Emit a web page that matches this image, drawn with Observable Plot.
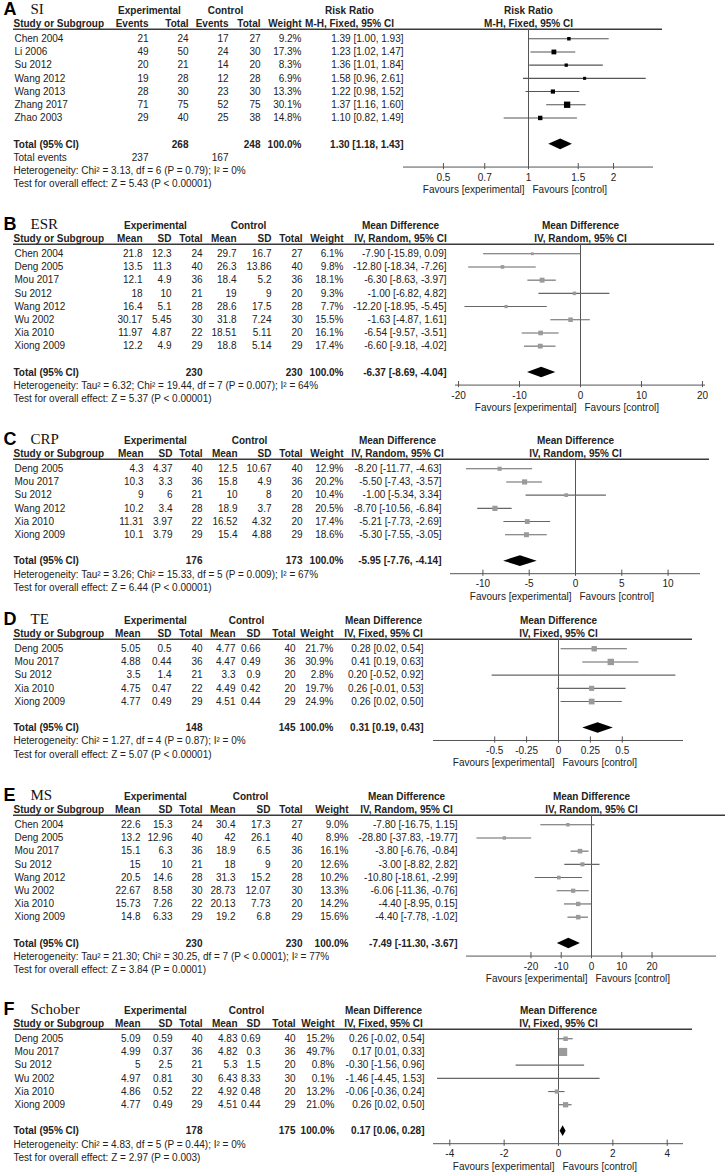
<!DOCTYPE html>
<html><head><meta charset="utf-8">
<script src="https://cdn.jsdelivr.net/npm/d3@7"></script>
<script src="https://cdn.jsdelivr.net/npm/@observablehq/plot@0.6"></script>
<style>
html,body{margin:0;padding:0;background:#fff;}
#root{position:relative;width:727px;height:1173px;overflow:hidden;background:#fff;}
#root svg{position:absolute;left:0;}
</style></head><body><div id="root"></div>
<script>
// ================= DATA =================
// A  SI  (Risk Ratio, M-H, Fixed)
const siStudy = ["Chen 2004","Li 2006","Su 2012","Wang 2012","Wang 2013","Zhang 2017","Zhao 2003"];
const siExpEvents = [21,49,20,19,28,71,29];
const siExpTotal  = [24,50,21,28,30,75,40];
const siCtrlEvents = [17,24,14,12,23,52,25];
const siCtrlTotal  = [27,30,20,28,30,75,38];
const siWeight = [9.2,17.3,8.3,6.9,13.3,30.1,14.8];
const siEst = [1.39,1.23,1.36,1.58,1.22,1.37,1.10];
const siLo  = [1.00,1.02,1.01,0.96,0.98,1.16,0.82];
const siHi  = [1.93,1.47,1.84,2.61,1.52,1.60,1.49];
const siTotals = [268,248];
const siTotalEvents = [237,167];
const siPooled = [1.30,1.18,1.43];
const siHet = "Heterogeneity: Chi² = 3.13, df = 6 (P = 0.79); I² = 0%";
const siTest = "Test for overall effect: Z = 5.43 (P < 0.00001)";
const siTicks = [0.5,0.7,1,1.5,2];

// B  ESR (Mean Difference, IV, Random)
const esrStudy = ["Chen 2004","Deng 2005","Mou 2017","Su 2012","Wang 2012","Wu 2002","Xia 2010","Xiong 2009"];
const esrExpMean = [21.8,13.5,12.1,18,16.4,30.17,11.97,12.2];
const esrExpSD   = [12.3,11.3,4.9,10,5.1,5.45,4.87,4.9];
const esrExpN    = [24,40,36,21,28,30,22,29];
const esrCtrlMean = [29.7,26.3,18.4,19,28.6,31.8,18.51,18.8];
const esrCtrlSD   = [16.7,13.86,5.2,9,17.5,7.24,5.11,5.14];
const esrCtrlN    = [27,40,36,20,28,30,20,29];
const esrWeight = [6.1,9.8,18.1,9.3,7.7,15.5,16.1,17.4];
const esrEst = [-7.90,-12.80,-6.30,-1.00,-12.20,-1.63,-6.54,-6.60];
const esrLo  = [-15.89,-18.34,-8.63,-6.82,-18.95,-4.87,-9.57,-9.18];
const esrHi  = [0.09,-7.26,-3.97,4.82,-5.45,1.61,-3.51,-4.02];
const esrTotals = [230,230];
const esrPooled = [-6.37,-8.69,-4.04];
const esrHet = "Heterogeneity: Tau² = 6.32; Chi² = 19.44, df = 7 (P = 0.007); I² = 64%";
const esrTest = "Test for overall effect: Z = 5.37 (P < 0.00001)";
const esrTicks = [-20,-10,0,10,20];

// C  CRP (Mean Difference, IV, Random)
const crpStudy = ["Deng 2005","Mou 2017","Su 2012","Wang 2012","Xia 2010","Xiong 2009"];
const crpExpMean = [4.3,10.3,9,10.2,11.31,10.1];
const crpExpSD   = [4.37,3.3,6,3.4,3.97,3.79];
const crpExpN    = [40,36,21,28,22,29];
const crpCtrlMean = [12.5,15.8,10,18.9,16.52,15.4];
const crpCtrlSD   = [10.67,4.9,8,3.7,4.32,4.88];
const crpCtrlN    = [40,36,20,28,20,29];
const crpWeight = [12.9,20.2,10.4,20.5,17.4,18.6];
const crpEst = [-8.20,-5.50,-1.00,-8.70,-5.21,-5.30];
const crpLo  = [-11.77,-7.43,-5.34,-10.56,-7.73,-7.55];
const crpHi  = [-4.63,-3.57,3.34,-6.84,-2.69,-3.05];
const crpTotals = [176,173];
const crpPooled = [-5.95,-7.76,-4.14];
const crpHet = "Heterogeneity: Tau² = 3.26; Chi² = 15.33, df = 5 (P = 0.009); I² = 67%";
const crpTest = "Test for overall effect: Z = 6.44 (P < 0.00001)";
const crpTicks = [-10,-5,0,5,10];

// D  TE (Mean Difference, IV, Fixed)
const teStudy = ["Deng 2005","Mou 2017","Su 2012","Xia 2010","Xiong 2009"];
const teExpMean = [5.05,4.88,3.5,4.75,4.77];
const teExpSD   = [0.5,0.44,1.4,0.47,0.49];
const teExpN    = [40,36,21,22,29];
const teCtrlMean = [4.77,4.47,3.3,4.49,4.51];
const teCtrlSD   = [0.66,0.49,0.9,0.42,0.44];
const teCtrlN    = [40,36,20,20,29];
const teWeight = [21.7,30.9,2.8,19.7,24.9];
const teEst = [0.28,0.41,0.20,0.26,0.26];
const teLo  = [0.02,0.19,-0.52,-0.01,0.02];
const teHi  = [0.54,0.63,0.92,0.53,0.50];
const teTotals = [148,145];
const tePooled = [0.31,0.19,0.43];
const teHet = "Heterogeneity: Chi² = 1.27, df = 4 (P = 0.87); I² = 0%";
const teTest = "Test for overall effect: Z = 5.07 (P < 0.00001)";
const teTicks = [-0.5,-0.25,0,0.25,0.5];

// E  MS (Mean Difference, IV, Random)
const msStudy = ["Chen 2004","Deng 2005","Mou 2017","Su 2012","Wang 2012","Wu 2002","Xia 2010","Xiong 2009"];
const msExpMean = [22.6,13.2,15.1,15,20.5,22.67,15.73,14.8];
const msExpSD   = [15.3,12.96,6.3,10,14.6,8.58,7.26,6.33];
const msExpN    = [24,40,36,21,28,30,22,29];
const msCtrlMean = [30.4,42,18.9,18,31.3,28.73,20.13,19.2];
const msCtrlSD   = [17.3,26.1,6.5,9,15.2,12.07,7.73,6.8];
const msCtrlN    = [27,40,36,20,28,30,20,29];
const msWeight = [9.0,8.9,16.1,12.6,10.2,13.3,14.2,15.6];
const msEst = [-7.80,-28.80,-3.80,-3.00,-10.80,-6.06,-4.40,-4.40];
const msLo  = [-16.75,-37.83,-6.76,-8.82,-18.61,-11.36,-8.95,-7.78];
const msHi  = [1.15,-19.77,-0.84,2.82,-2.99,-0.76,0.15,-1.02];
const msTotals = [230,230];
const msPooled = [-7.49,-11.30,-3.67];
const msHet = "Heterogeneity: Tau² = 21.30; Chi² = 30.25, df = 7 (P < 0.0001); I² = 77%";
const msTest = "Test for overall effect: Z = 3.84 (P = 0.0001)";
const msTicks = [-20,-10,0,10,20];

// F  Schober (Mean Difference, IV, Fixed)
const schStudy = ["Deng 2005","Mou 2017","Su 2012","Wu 2002","Xia 2010","Xiong 2009"];
const schExpMean = [5.09,4.99,5,4.97,4.86,4.77];
const schExpSD   = [0.59,0.37,2.5,0.81,0.52,0.49];
const schExpN    = [40,36,21,30,22,29];
const schCtrlMean = [4.83,4.82,5.3,6.43,4.92,4.51];
const schCtrlSD   = [0.69,0.3,1.5,8.33,0.48,0.44];
const schCtrlN    = [40,36,20,30,20,29];
const schWeight = [15.2,49.7,0.8,0.1,13.2,21.0];
const schEst = [0.26,0.17,-0.30,-1.46,-0.06,0.26];
const schLo  = [-0.02,0.01,-1.56,-4.45,-0.36,0.02];
const schHi  = [0.54,0.33,0.96,1.53,0.24,0.50];
const schTotals = [178,175];
const schPooled = [0.17,0.06,0.28];
const schHet = "Heterogeneity: Chi² = 4.83, df = 5 (P = 0.44); I² = 0%";
const schTest = "Test for overall effect: Z = 2.97 (P = 0.003)";
const schTicks = [-4,-2,0,2,4];

// ================= DRAWING =================
const W = 727, ROW = 13.2, L = 13, TL = 14;
const FONT = "'Liberation Sans', Arial, Helvetica, sans-serif";
const SERIF = "'Liberation Serif', 'Times New Roman', serif";
const INK = "#222";
const ci = (e, l, h) => `${e.toFixed(2)} [${l.toFixed(2)}, ${h.toFixed(2)}]`;

function panel(o) {
  const n = o.study.length;
  const R0 = 2.14, UL = 1.42;
  const rows = d3.range(n).map(i => R0 + i);
  const totalRow = R0 + n + 1;
  const hetRow = totalRow + (o.totalEvents ? 2 : 1);
  const testRow = hetRow + 1;
  const axisRow = totalRow + (o.totalEvents ? 1.72 : 0.95);
  const tickRow = axisRow + 0.8;
  const favRow = axisRow + 1.72;
  const height = Math.ceil(TL + (Math.max(testRow, favRow) + 0.9) * ROW);
  const axEnd = o.axStart + 250;
  const at = p => p - L;
  const studies = o.study.map((s, i) => ({s, row: rows[i], est: o.est[i], lo: o.lo[i], hi: o.hi[i], w: o.weight[i]}));
  const t = (arr, opts) => Plot.text(arr, {fill: INK, fontSize: 10, ...opts});
  const left = (arr, row, pos, anchor, extra = {}) =>
    t(arr, {y: typeof row === "number" ? () => row : row, frameAnchor: "left", dx: at(pos), textAnchor: anchor, ...extra});
  const B = {fontWeight: "bold"};
  const [p0, p1, p2] = o.pooled;
  const diamond = [
    {x: p1, y1: totalRow, y2: totalRow},
    {x: p0, y1: totalRow - 0.4, y2: totalRow + 0.4},
    {x: p2, y1: totalRow, y2: totalRow}
  ];
  const marks = [
    // panel letter and outcome name
    left([o.letter], -0.12, 3, "start", {fontSize: 18, fontWeight: "bold", fill: "#000"}),
    left([o.title], -0.12, 30, "start", {fontSize: 15, fontFamily: SERIF, fill: "#111"}),
    // header row 1
    left(["Experimental"], 0, o.expCenter, "middle", B),
    left(["Control"], 0, o.ctrlCenter, "middle", B),
    left([o.effect], 0, o.effCenter, "middle", B),
    t([o.effect], {x: () => o.nullX, y: () => 0, textAnchor: "middle", ...B}),
    // header row 2
    left(["Study or Subgroup"], 1, 13, "start", B),
    ...o.cols.map(c => left([c.label], 1, c.right, "end", B)),
    left(["Weight"], 1, o.weightRight, "end", B),
    left([o.method], 1, o.effCenter, "middle", B),
    t([o.method], {x: () => o.nullX, y: () => 1, textAnchor: "middle", ...B}),
    Plot.ruleY([UL], {stroke: "#3a3a3a", strokeWidth: 1.3}),
    // study rows
    left(studies, "row", 14, "start", {text: "s"}),
    ...o.cols.map(c => left(c.values, (d, i) => rows[i], c.right, "end", {text: d => String(d)})),
    left(studies, "row", o.weightRight, "end", {text: d => d.w.toFixed(1) + "%"}),
    left(studies, "row", o.effRight, "end", {text: d => ci(d.est, d.lo, d.hi)}),
    // forest: null line, CIs, squares
    Plot.ruleX([o.nullX], {y1: UL, y2: axisRow, stroke: "#555"}),
    Plot.ruleY(studies, {y: "row", x1: "lo", x2: "hi", stroke: o.ciColor, strokeWidth: 1.1}),
    Plot.dot(studies, {x: "est", y: "row", r: "w", symbol: "square", fill: o.sqColor}),
    // total row
    left(["Total (95% CI)"], totalRow, 13, "start", B),
    left([o.totals[0]], totalRow, o.cols[o.totIdx[0]].right, "end", {...B, text: d => String(d)}),
    left([o.totals[1]], totalRow, o.cols[o.totIdx[1]].right, "end", {...B, text: d => String(d)}),
    left(["100.0%"], totalRow, o.weightRight, "end", B),
    left([o.pooled], totalRow, o.effRight, "end", {...B, text: d => ci(d[0], d[1], d[2])}),
    Plot.area(diamond, {x1: "x", y1: "y1", y2: "y2", fill: "#000", curve: "linear"}),
    // heterogeneity and overall effect
    left([o.het], hetRow, 13, "start"),
    left([o.test], testRow, 13, "start"),
    // x axis
    Plot.ruleY([axisRow], {x1: o.domain[0], x2: o.domain[1], stroke: "#555"}),
    Plot.ruleX(o.ticks, {x: d => d, y1: axisRow - 0.27, y2: axisRow + 0.2, stroke: "#555"}),
    t(o.ticks, {x: d => d, y: () => tickRow, text: d => String(d)}),
    t(["Favours [experimental]"], {x: () => o.nullX, y: () => favRow, textAnchor: "end", dx: -4}),
    t(["Favours [control]"], {x: () => o.nullX, y: () => favRow, textAnchor: "start", dx: 4})
  ];
  if (o.totalEvents) {
    marks.push(
      left(["Total events"], totalRow + 1, 13, "start"),
      left([o.totalEvents[0]], totalRow + 1, o.cols[0].right, "end", {text: d => String(d)}),
      left([o.totalEvents[1]], totalRow + 1, o.cols[2].right, "end", {text: d => String(d)})
    );
  }
  const svg = Plot.plot({
    width: W, height,
    marginLeft: L, marginRight: W - (axEnd + 9), marginTop: 0, marginBottom: 0,
    x: {type: o.xType, domain: o.domain, range: [o.axStart, axEnd], axis: null},
    y: {domain: [0, 1], range: [TL, TL + ROW], axis: null},
    r: {domain: [0, 50], range: [0, 4.6]},
    style: {fontFamily: FONT, fontSize: "10px", background: "transparent", overflow: "visible"},
    marks
  });
  svg.style.top = (o.top - TL) + "px";
  return svg;
}

const dichCols = (r, ev1, n1, ev2, n2) => [
  {label: "Events", values: ev1, right: r[0]}, {label: "Total", values: n1, right: r[1]},
  {label: "Events", values: ev2, right: r[2]}, {label: "Total", values: n2, right: r[3]}];
const contCols = (r, m1, s1, n1, m2, s2, n2) => [
  {label: "Mean", values: m1, right: r[0]}, {label: "SD", values: s1, right: r[1]}, {label: "Total", values: n1, right: r[2]},
  {label: "Mean", values: m2, right: r[3]}, {label: "SD", values: s2, right: r[4]}, {label: "Total", values: n2, right: r[5]}];

const panels = [
  {letter: "A", title: "SI", top: 10, effect: "Risk Ratio", method: "M-H, Fixed, 95% CI",
   study: siStudy, weight: siWeight, est: siEst, lo: siLo, hi: siHi,
   cols: dichCols([148,188,228,260], siExpEvents, siExpTotal, siCtrlEvents, siCtrlTotal), totIdx: [1,3],
   totals: siTotals, totalEvents: siTotalEvents, pooled: siPooled, het: siHet, test: siTest, ticks: siTicks,
   weightRight: 301, effRight: 403, effCenter: 349, expCenter: 149, ctrlCenter: 225,
   xType: "log", domain: [0.361, 2.77], axStart: 403, nullX: 1, ciColor: "#555", sqColor: "#000"},
  {letter: "B", title: "ESR", top: 224.5, effect: "Mean Difference", method: "IV, Random, 95% CI",
   study: esrStudy, weight: esrWeight, est: esrEst, lo: esrLo, hi: esrHi,
   cols: contCols([142,171,202,236,271,302], esrExpMean, esrExpSD, esrExpN, esrCtrlMean, esrCtrlSD, esrCtrlN), totIdx: [2,5],
   totals: esrTotals, pooled: esrPooled, het: esrHet, test: esrTest, ticks: esrTicks,
   weightRight: 343, effRight: 446, effCenter: 400, expCenter: 155, ctrlCenter: 248,
   xType: "linear", domain: [-20.5, 20.5], axStart: 455, nullX: 0, ciColor: "#666", sqColor: "#9a9a9a"},
  {letter: "C", title: "CRP", top: 440, effect: "Mean Difference", method: "IV, Random, 95% CI",
   study: crpStudy, weight: crpWeight, est: crpEst, lo: crpLo, hi: crpHi,
   cols: contCols([143,172,202,237,271,302], crpExpMean, crpExpSD, crpExpN, crpCtrlMean, crpCtrlSD, crpCtrlN), totIdx: [2,5],
   totals: crpTotals, pooled: crpPooled, het: crpHet, test: crpTest, ticks: crpTicks,
   weightRight: 343, effRight: 441, effCenter: 397, expCenter: 155, ctrlCenter: 249,
   xType: "linear", domain: [-13.5, 13.5], axStart: 450, nullX: 0, ciColor: "#666", sqColor: "#9a9a9a"},
  {letter: "D", title: "TE", top: 620, effect: "Mean Difference", method: "IV, Fixed, 95% CI",
   study: teStudy, weight: teWeight, est: teEst, lo: teLo, hi: teHi,
   cols: contCols([140,171,202,235,260,295], teExpMean, teExpSD, teExpN, teCtrlMean, teCtrlSD, teCtrlN), totIdx: [2,5],
   totals: teTotals, pooled: tePooled, het: teHet, test: teTest, ticks: teTicks,
   weightRight: 333, effRight: 423, effCenter: 383, expCenter: 155, ctrlCenter: 246,
   xType: "linear", domain: [-0.98, 0.98], axStart: 433, nullX: 0, ciColor: "#666", sqColor: "#9a9a9a"},
  {letter: "E", title: "MS", top: 796, effect: "Mean Difference", method: "IV, Random, 95% CI",
   study: msStudy, weight: msWeight, est: msEst, lo: msLo, hi: msHi,
   cols: contCols([140,172,202,235,270,302], msExpMean, msExpSD, msExpN, msCtrlMean, msCtrlSD, msCtrlN), totIdx: [2,5],
   totals: msTotals, pooled: msPooled, het: msHet, test: msTest, ticks: msTicks,
   weightRight: 348, effRight: 457, effCenter: 406, expCenter: 155, ctrlCenter: 250,
   xType: "linear", domain: [-41.3, 41.3], axStart: 466, nullX: 0, ciColor: "#666", sqColor: "#9a9a9a"},
  {letter: "F", title: "Schober", top: 1010, effect: "Mean Difference", method: "IV, Fixed, 95% CI",
   study: schStudy, weight: schWeight, est: schEst, lo: schLo, hi: schHi,
   cols: contCols([140,172,202,237,260,295], schExpMean, schExpSD, schExpN, schCtrlMean, schCtrlSD, schCtrlN), totIdx: [2,5],
   totals: schTotals, pooled: schPooled, het: schHet, test: schTest, ticks: schTicks,
   weightRight: 334, effRight: 424, effCenter: 383, expCenter: 155, ctrlCenter: 246,
   xType: "linear", domain: [-4.6, 4.6], axStart: 433, nullX: 0, ciColor: "#666", sqColor: "#9a9a9a"}
];

const root = document.getElementById("root");
for (const p of panels) root.appendChild(panel(p));
</script>
</body></html>
